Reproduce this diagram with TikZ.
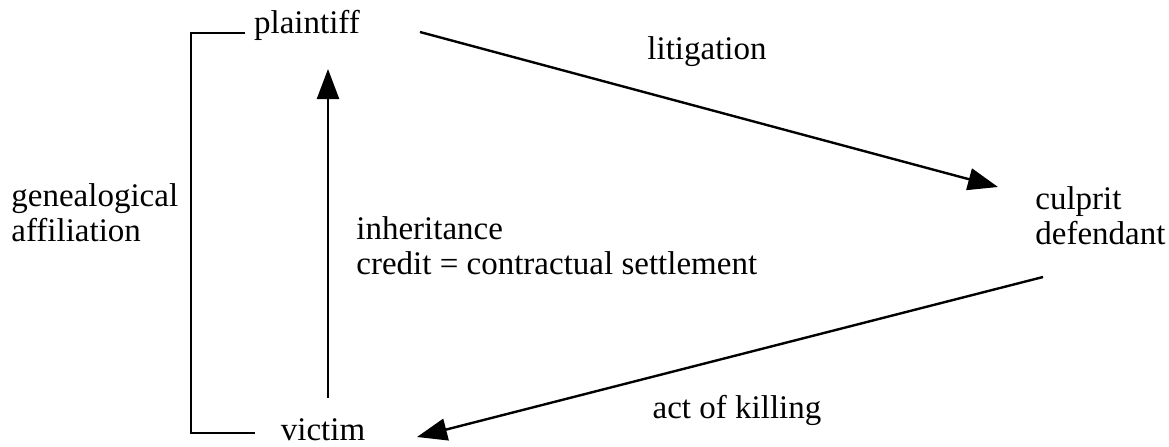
\documentclass[tikz,border=0pt]{standalone}
\usepackage{fontspec}
\setmainfont{Liberation Serif}
\usetikzlibrary{arrows.meta,positioning}

\begin{document}
\begin{tikzpicture}[
    x=0.5pt, y=-0.5pt,
    term/.style={inner sep=0pt, align=left, font=\fontsize{16.5}{17.5}\selectfont},
    arrow/.style={-{Triangle[length=15pt,width=11pt]}, line width=1.2pt},
    bracket/.style={line width=1.1pt}
  ]
    \useasboundingbox (0,0) rectangle (1169,446);

    \node[term] (plaintiff) at (307,25) {plaintiff};
    \node[term] (victim) at (323,430) {victim};
    \node[term, anchor=west] (culprit) at (1035,216) {culprit\\defendant};
    \node[term, anchor=west] (genealogy) at (11,213) {genealogical\\affiliation};
    \node[term, anchor=west] (inherit) at (356,246) {inheritance\\credit = contractual settlement};
    \node[term] (litigation) at (707,52) {litigation};
    \node[term] (killing) at (737,410) {act of killing};

    % free ends of the connectors
    \coordinate (lit-from) at (420,32);
    \coordinate (lit-to) at (998,187);
    \coordinate (kill-from) at (1043,277);
    \coordinate (kill-to) at (417,437);
    \coordinate (inh-from) at (328,398);
    \coordinate (inh-to) at (328,69);
    \coordinate (br-top) at (245,33);
    \coordinate (br-bot) at (255,433);

    \draw[arrow] (lit-from) -- (lit-to);
    \draw[arrow] (kill-from) -- (kill-to);
    \draw[arrow] (inh-from) -- (inh-to);
    \draw[bracket] (br-top) -- (191,33) -- (191,433) -- (br-bot);
  \end{tikzpicture}
\end{document}
